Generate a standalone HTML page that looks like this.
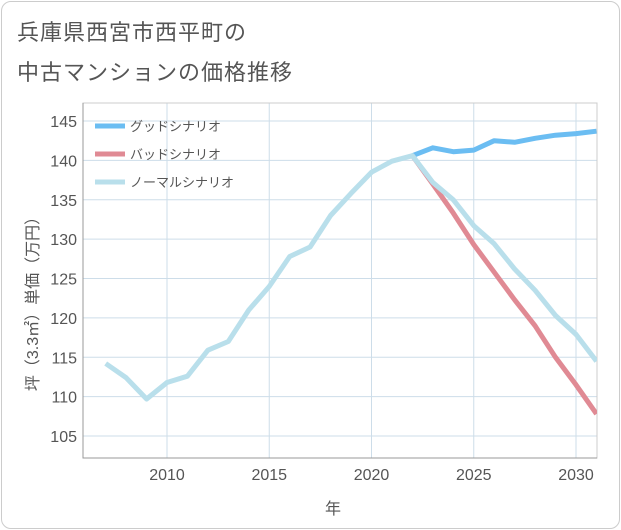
<!DOCTYPE html>
<html><head><meta charset="utf-8"><style>
body{margin:0;background:#fff;}
#wrap{position:relative;width:621px;height:530px;font-family:"Liberation Sans","Noto Sans CJK JP",sans-serif;}
#frame{position:absolute;left:1px;top:1px;width:617px;height:526px;border:1px solid #ccc;border-radius:10px;}
.title{position:absolute;left:17px;font-size:22px;color:#555;letter-spacing:1px;}
</style></head><body>
<div id="wrap">
<div id="frame"></div>
<div class="title" style="top:15px">兵庫県西宮市西平町の</div>
<div class="title" style="top:55px">中古マンションの価格推移</div>
<svg id="chart" width="621" height="530" style="position:absolute;left:0;top:0"></svg>
</div>
<script>
const years=[2007,2008,2009,2010,2011,2012,2013,2014,2015,2016,2017,2018,2019,2020,2021,2022,2023,2024,2025,2026,2027,2028,2029,2030,2031];
const normalVals=[114.2,112.4,109.7,111.8,112.6,115.9,117.0,121.0,124.0,127.8,129.0,133.0,135.8,138.5,139.9,140.6,137.2,135.0,131.7,129.4,126.2,123.5,120.3,117.9,114.5];
const futureYears=[2022,2023,2024,2025,2026,2027,2028,2029,2030,2031];
const goodVals=[140.6,141.6,141.1,141.3,142.5,142.3,142.8,143.2,143.4,143.7];
const badVals=[140.6,137.0,133.3,129.3,125.8,122.3,119.0,115.0,111.5,107.8];
const xTicks=[2010,2015,2020,2025,2030];
const yTicks=[105,110,115,120,125,130,135,140,145];
const legendLabels=["グッドシナリオ","バッドシナリオ","ノーマルシナリオ"];
const legendColors=["#6bbdf2","#e08a94","#b9dfeb"];

const NS="http://www.w3.org/2000/svg";
const svg=document.getElementById('chart');
const L=83,R=597,T=103,B=458;
const x=y=>167+(y-2010)*20.45;
const yS=v=>121+(145-v)*7.875;
function mk(t,a){const e=document.createElementNS(NS,t);for(const k in a)e.setAttribute(k,a[k]);svg.appendChild(e);return e;}

xTicks.forEach(t=>{
  const g=mk('line',{x1:x(t),x2:x(t),y1:T,y2:B,stroke:'#cddde9','stroke-width':1});
  
  
});
yTicks.forEach(t=>{
  const g=mk('line',{x1:L,x2:R,y1:yS(t),y2:yS(t),stroke:'#cddde9','stroke-width':1});
  
  
});
const pa=mk('rect',{x:L,y:T,width:R-L,height:B-T,fill:'none',stroke:'#ccc','stroke-width':1});


const ax=mk('path',{d:`M${L},${T} L${L},${B} L${R},${B}`,fill:'none',stroke:'#999','stroke-width':1});



xTicks.forEach(t=>{const e=mk('text',{x:x(t),y:480,'text-anchor':'middle','font-size':16,fill:'#555'});e.textContent=t;

});
yTicks.forEach(t=>{const e=mk('text',{x:77,y:yS(t)+6,'text-anchor':'end','font-size':16,fill:'#555'});e.textContent=t;

});

const xt=mk('text',{x:333,y:514,'text-anchor':'middle','font-size':16,fill:'#555'});xt.textContent='年';


const yt=mk('text',{x:0,y:0,'text-anchor':'middle','font-size':16,fill:'#555',transform:'translate(38,300) rotate(-90)'});yt.textContent='坪（3.3㎡）単価（万円）';



const clip=mk('clipPath',{id:'cp'});const cr=document.createElementNS(NS,'rect');
cr.setAttribute('x',L);cr.setAttribute('y',T);cr.setAttribute('width',R-L);cr.setAttribute('height',B-T);clip.appendChild(cr);

function line(xs,vs,color,name){
  const d=xs.map((yr,i)=>(i?'L':'M')+x(yr).toFixed(1)+','+yS(vs[i]).toFixed(1)).join(' ');
  const p=mk('path',{d:d,fill:'none',stroke:color,'stroke-width':5,'stroke-linejoin':'round','clip-path':'url(#cp)'});
  
  
}
line(futureYears,goodVals,legendColors[0],'good-scenario-line');
line(futureYears,badVals,legendColors[1],'bad-scenario-line');
line(years,normalVals,legendColors[2],'normal-scenario-line');

legendLabels.forEach((lab,i)=>{
  const yy=126+i*28;
  const l=mk('line',{x1:95,x2:125,y1:yy,y2:yy,stroke:legendColors[i],'stroke-width':5});
  
  
  const t=mk('text',{x:130,y:yy+5,'font-size':13,fill:'#555'});t.textContent=lab;
  
  
});
</script>
</body></html>
